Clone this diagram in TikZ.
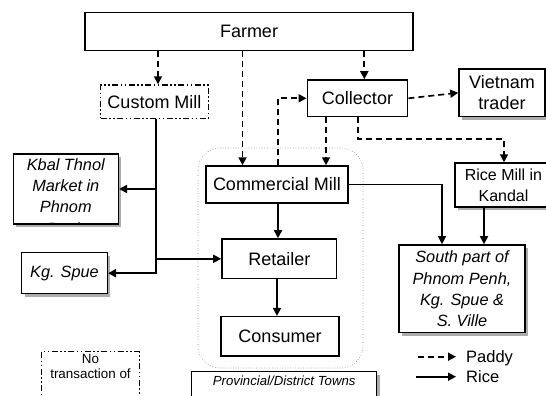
\documentclass[tikz,border=0pt]{standalone}
\usepackage{fontspec}
\setmainfont{Liberation Sans}
\usetikzlibrary{arrows.meta,shadows}
\begin{document}
\begin{tikzpicture}[x=1pt,y=-1pt,
 box/.style={draw, line width=1.5pt, fill=white, inner sep=0pt, align=center},
 sbox/.style={box, drop shadow={opacity=1, fill=gray!65, shadow xshift=3pt, shadow yshift=-3pt}},
 f18/.style={font=\fontsize{18}{21.5}\selectfont},
 f16/.style={font=\fontsize{16}{20.7}\selectfont},
 fi/.style={font=\fontsize{16.3}{21.2}\selectfont\itshape},
 tip/.style={-{Triangle[length=8pt,width=8pt]}},
 paddy/.style={line width=1.7pt, dash pattern=on 6pt off 4pt, tip},
 rice/.style={line width=1.7pt, tip},
 ricethin/.style={line width=1.2pt, tip},
 dashdot/.style={dash pattern=on 6pt off 2.5pt on 1.5pt off 2.5pt on 1.5pt off 2.5pt},
]
\useasboundingbox (0,0) rectangle (546,396);

% container of provincial/district towns
\draw[gray, line width=0.6pt, dotted, rounded corners=22pt] (198,148) rectangle (363,368);

% boxes
\node[box,f18,minimum width=328,minimum height=38] (farmer) at (249,31.7) {Farmer};
\node[box,f18,dashdot,line width=1.5pt,minimum width=107.6,minimum height=33.3] (custom) at (154.5,101.7) {Custom Mill};
\node[box,f18,minimum width=100.4,minimum height=36.7] (collector) at (357.5,98.3) {Collector};
\node[sbox,f18,minimum width=86,minimum height=47.7] (vietnam) at (502,92.8) {Vietnam\\trader};
\node[box,f18,minimum width=142,minimum height=37] (cm) at (277,184.5) {Commercial Mill};
\node[sbox,f16,minimum width=97,minimum height=44] (rice) at (503.5,185) {Rice Mill in\\Kandal};
\node[sbox,minimum width=105,minimum height=70] (kbal) at (65.8,189) {};
\begin{scope}
 \clip (kbal.north west) rectangle (kbal.south east);
 \node[fi,align=center,inner sep=0pt] (kbaltext) at (65.8,196.5) {Kbal Thnol\\Market in\\Phnom\\Penh};
\end{scope}
\node[sbox,fi,minimum width=85.6,minimum height=41] (kgspue) at (64.5,273.2) {Kg. Spue};
\node[box,f18,minimum width=114.7,minimum height=39.7] (retailer) at (279.3,258.8) {Retailer};
\node[sbox,fi,minimum width=126,minimum height=87.7] (south) at (462,288.8) {South part of\\Phnom Penh,\\Kg. Spue \&\\S. Ville};
\node[box,f18,minimum width=118,minimum height=39.3] (consumer) at (280,336.3) {Consumer};
\node[sbox,minimum width=185,minimum height=32] (prov) at (284.2,387.7) {};
\node[font=\fontsize{13.2}{15}\selectfont\itshape,inner sep=0pt] (provtext) at (284.2,380.7) {Provincial/District Towns};
\node[draw,dashdot,line width=1.5pt,minimum width=97.6,minimum height=52,inner sep=0pt] (notrans) at (90.5,377.7) {};
\node[font=\fontsize{13.4}{14.7}\selectfont,align=center,inner sep=0pt] (notranstext) at (90.5,366.4) {No\\transaction of};

% paddy flows
\draw[paddy] (farmer.south -| 158,0) -- (custom.north -| 158,0);
\draw[paddy] (farmer.south -| 242.5,0) -- (cm.north -| 242.5,0);
\draw[paddy] (farmer.south -| 364.3,0) -- (collector.north -| 364.3,0);
\draw[paddy] (collector.east) -- (vietnam.west);
\draw[paddy] (cm.north -| 278,0) |- (collector.west);
\draw[paddy] (collector.south -| 326,0) -- (cm.north -| 326,0);
\coordinate (bend) at (358,139);
\draw[paddy] (collector.south -| 358,0) -- (bend) -| (rice.north -| 504,0);

% rice flows
\coordinate (j1) at (156,189);
\coordinate (j2) at (156,258.8);
\draw[rice, line width=2pt] (custom.south -| 156,0) |- (kgspue.east);
\draw[rice] (j1) -- (kbal.east);
\draw[rice] (j2) -- (retailer.west);
\draw[ricethin] (cm.east) -| (south.north -| 442,0);
\draw[rice] (rice.south -| 484,0) -- (south.north -| 484,0);
\draw[rice] (cm.south -| 278,0) -- (retailer.north -| 278,0);
\draw[rice] (retailer.south -| 277,0) -- (consumer.north -| 277,0);

% legend
\coordinate (pa1) at (418,356.7);
\coordinate (pa2) at (456,356.7);
\coordinate (ra1) at (416,376.7);
\coordinate (ra2) at (456,376.7);
\draw[paddy] (pa1) -- (pa2);
\draw[rice] (ra1) -- (ra2);
\node[anchor=base west,inner sep=0pt,font=\fontsize{16.5}{20}\selectfont] (lpaddy) at (466,362.7) {Paddy};
\node[anchor=base west,inner sep=0pt,font=\fontsize{16.5}{20}\selectfont] (lrice) at (466,382.7) {Rice};
\end{tikzpicture}
\end{document}
